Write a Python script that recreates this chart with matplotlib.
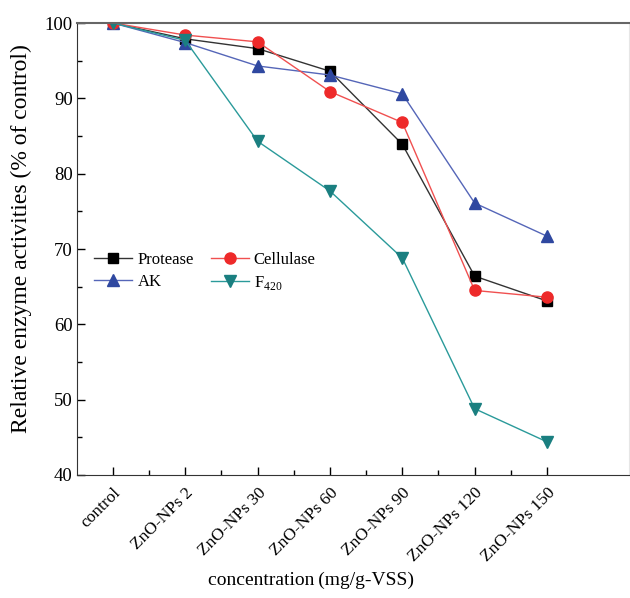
import matplotlib.pyplot as plt
import numpy as np
from matplotlib.ticker import MultipleLocator, FixedLocator

plt.rcParams['font.family'] = ['Liberation Serif', 'DejaVu Serif']
plt.rcParams['mathtext.fontset'] = 'custom'
plt.rcParams['mathtext.rm'] = 'Liberation Serif'

categories = ['control', 'ZnO-NPs 2', 'ZnO-NPs 30', 'ZnO-NPs 60',
              'ZnO-NPs 90', 'ZnO-NPs 120', 'ZnO-NPs 150']
protease = [100, 97.9, 96.6, 93.6, 83.9, 66.4, 63.1]
cellulase = [100, 98.4, 97.5, 90.9, 86.8, 64.5, 63.6]
ak = [100, 97.4, 94.3, 93.1, 90.6, 76.1, 71.7]
f420 = [100, 97.7, 84.3, 77.7, 68.8, 48.8, 44.4]

x = np.arange(len(categories))

fig = plt.figure(figsize=(6.3, 5.98), dpi=100)
ax = fig.add_axes([0.123, 0.2057, 0.875, 0.7558])

ax.plot(x, protease, color='#333333', lw=1, marker='s', ms=6.5, mfc='black', mec='black', label='Protease')
ax.plot(x, ak, color='#5566b8', lw=1, marker='^', ms=9, mfc='#2f48a0', mec='#2f48a0', label='AK')
ax.plot(x, cellulase, color='#f05050', lw=1, marker='o', ms=8, mfc='#ee2a2a', mec='#ee2a2a', label='Cellulase')
ax.plot(x, f420, color='#2a9a9a', lw=1, marker='v', ms=9, mfc='#1a7f80', mec='#1a7f80', label='F$_{420}$')

ax.set_xlim(-0.49, 7.13)
ax.set_ylim(40, 100)
ax.set_xticks(x)
ax.set_xticklabels(categories, rotation=45, ha='right', rotation_mode='anchor', fontsize=12.5)
ax.xaxis.set_minor_locator(FixedLocator(x[:-1] + 0.5))
ax.yaxis.set_major_locator(MultipleLocator(10))
ax.yaxis.set_minor_locator(MultipleLocator(5))
ax.tick_params(axis='both', which='major', direction='in', length=6, width=1, labelsize=13.5)
ax.tick_params(axis='x', which='major', labelsize=12.5, pad=7)
ax.tick_params(axis='both', which='minor', direction='in', length=3.5, width=1)

ax.spines['top'].set_color('#666666')
ax.spines['top'].set_linewidth(1.5)
ax.spines['right'].set_color('#e6e6e6')
ax.spines['left'].set_color('#333333')
ax.spines['bottom'].set_color('#333333')

ax.set_ylabel('Relative enzyme activities (% of control)', fontsize=17)
ax.yaxis.set_label_coords(-0.083, 0.524)
ax.set_xlabel('concentration\u2009(mg/g-VSS)', fontsize=14)
ax.xaxis.set_label_coords(0.424, -0.215)

ax.legend(ncol=2, loc='upper left', bbox_to_anchor=(0.003, 0.527), frameon=False,
          fontsize=12, handlelength=2.3, columnspacing=1.0, handletextpad=0.3,
          labelspacing=0.35)

plt.savefig('out.png', dpi=100)
